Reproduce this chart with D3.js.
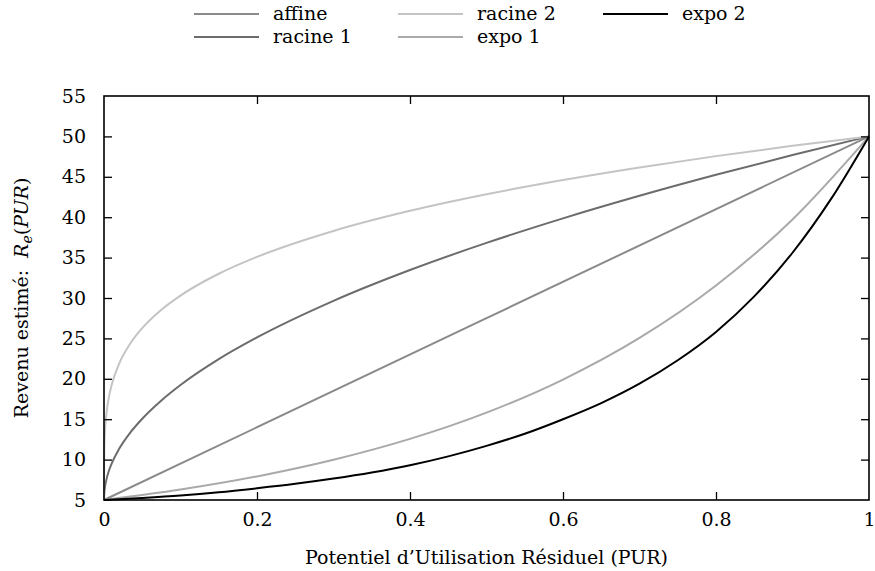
<!DOCTYPE html>
<html>
<head>
<meta charset="utf-8">
<script src="https://cdn.jsdelivr.net/npm/d3@7"></script>
<style>
  body { margin:0; background:#fff; }
  svg text { font-family: "DejaVu Serif", serif; fill:#000; }
  .frame { fill:none; stroke:#000; stroke-width:1.6; }
  .tick line { stroke:#000; stroke-width:1.3; }
  .curve { fill:none; stroke-width:2; }
</style>
</head>
<body>
<div id="chart"></div>
<script>

// data
var seriesNames = ['affine', 'racine 1', 'racine 2', 'expo 1', 'expo 2'];
var seriesColors = ['#8a8a8a', '#6c6c6c', '#c4c4c4', '#a9a9a9', '#000000'];

var affine = [[0,5],[0.5,27.5],[1,50]];
var racine1 = [[0,5],[0.0002,5.64],[0.001,6.42],[0.003,7.46],[0.006,8.49],[0.01,9.5],[0.02,11.36],[0.035,13.42],
               [0.05,15.06],[0.075,17.32],[0.1,19.23],[0.15,22.43],[0.2,25.12],[0.3,29.65],[0.4,33.46],
               [0.5,36.82],[0.6,39.86],[0.7,42.65],[0.8,45.25],[0.9,47.69],[1,50]];
var racine2 = [[0,5],[0.0002,10.35],[0.001,13.0],[0.003,15.53],[0.006,17.52],[0.01,19.23],[0.02,21.92],[0.035,24.46],
               [0.05,26.28],[0.075,28.55],[0.1,30.3],[0.15,33.0],[0.2,35.09],[0.3,38.3],[0.4,40.79],
               [0.5,42.84],[0.6,44.6],[0.7,46.16],[0.8,47.56],[0.9,48.83],[1,50]];
var expo1 = [[0,5],[0.1,6.29],[0.2,7.92],[0.3,9.98],[0.4,12.56],[0.5,15.81],[0.6,19.91],[0.7,25.06],
             [0.8,31.55],[0.9,39.72],[1,50]];
var expo2 = [[0,5],[0.05,5.25],[0.1,5.55],[0.15,5.95],[0.2,6.45],[0.25,7.0],[0.3,7.65],[0.35,8.4],[0.4,9.3],
             [0.45,10.4],[0.5,11.7],[0.55,13.2],[0.6,15.0],[0.65,17.0],[0.7,19.4],[0.75,22.3],[0.8,25.8],
             [0.85,30.2],[0.9,35.6],[0.95,42.2],[1,50]];

var xTicks = [0, 0.2, 0.4, 0.6, 0.8, 1];
var yTicks = [5, 10, 15, 20, 25, 30, 35, 40, 45, 50, 55];

var allSeries = [affine, racine1, racine2, expo1, expo2];

var margin = {top:96, right:6, bottom:71, left:104};
var width = 875 - margin.left - margin.right;
var height = 571 - margin.top - margin.bottom;

var xScale = d3.scaleLinear().domain([0, 1]).range([0, width]);
var yScale = d3.scaleLinear().domain([5, 55]).range([height, 0]);

var svg = d3.select("#chart").append("svg")
    .attr("width", 875)
    .attr("height", 571);

var g = svg.append("g")
    .attr("transform", "translate(" + margin.left + "," + margin.top + ")");

// curves
var line = d3.line()
    .x(function(d) { return xScale(d[0]); })
    .y(function(d) { return yScale(d[1]); })
    .curve(d3.curveMonotoneX);

g.selectAll(".curve")
    .data(allSeries)
    .enter()
    .append("path")
    .attr("class", "curve")
    .attr("stroke", function(d, i) { return seriesColors[i]; })
    .attr("d", line);

// axes, ticks pointing inwards on all four sides
var inner = function(v, lim) { return v > lim[0] && v < lim[1]; };

var xAxisB = d3.axisBottom(xScale).tickValues(xTicks).tickSizeInner(-8).tickSizeOuter(0).tickPadding(13)
    .tickFormat(function(d) { return d === 0 || d === 1 ? d3.format("d")(d) : d3.format(".1f")(d); });
var xAxisT = d3.axisTop(xScale).tickValues(xTicks.filter(function(d) { return inner(d, [0, 1]); }))
    .tickSizeInner(-8).tickSizeOuter(0).tickFormat("");
var yAxisL = d3.axisLeft(yScale).tickValues(yTicks).tickSizeInner(-8).tickSizeOuter(0).tickPadding(18);
var yAxisR = d3.axisRight(yScale).tickValues(yTicks.filter(function(d) { return inner(d, [5, 55]); }))
    .tickSizeInner(-8).tickSizeOuter(0).tickFormat("");

var xb = g.append("g").attr("transform", "translate(0," + height + ")").call(xAxisB);
g.append("g").call(xAxisT);
var yl = g.append("g").call(yAxisL);
g.append("g").attr("transform", "translate(" + width + ",0)").call(yAxisR);

svg.selectAll(".domain").remove();
xb.selectAll(".tick").filter(function(d) { return d === 0 || d === 1; }).select("line").remove();
yl.selectAll(".tick").filter(function(d) { return d === 5 || d === 55; }).select("line").remove();
svg.selectAll(".tick text").style("font-size", "19px");

g.append("rect").attr("class", "frame")
    .attr("x", 0).attr("y", 0).attr("width", width).attr("height", height);

// axis titles
svg.append("text")
    .attr("x", margin.left + width / 2)
    .attr("y", 564)
    .attr("text-anchor", "middle")
    .style("font-size", "19px")
    .text("Potentiel d\u2019Utilisation R\u00e9siduel (PUR)");

var yt = svg.append("text")
    .attr("transform", "translate(28," + (margin.top + height / 2) + ") rotate(-90)")
    .attr("text-anchor", "middle")
    .style("font-size", "19px");
yt.append("tspan").text("Revenu estim\u00e9:\u00a0\u00a0");
yt.append("tspan").style("font-style", "italic").text("R");
yt.append("tspan").style("font-style", "italic").style("font-size", "14px").attr("dy", 4).text("e");
yt.append("tspan").attr("dy", -4).text("(");
yt.append("tspan").style("font-style", "italic").text("PUR");
yt.append("tspan").text(")");

// legend
var legendPos = [[194, 14], [194, 37], [398, 14], [398, 37], [603, 14]];

var legend = svg.selectAll(".legend")
    .data(seriesNames)
    .enter()
    .append("g")
    .attr("class", "legend")
    .attr("transform", function(d, i) { return "translate(" + legendPos[i][0] + "," + legendPos[i][1] + ")"; });

legend.append("line")
    .attr("x1", 0).attr("x2", 65).attr("y1", 0).attr("y2", 0)
    .attr("stroke", function(d, i) { return seriesColors[i]; })
    .attr("stroke-width", 2);

legend.append("text")
    .attr("x", 79)
    .attr("dy", "0.32em")
    .style("font-size", "19px")
    .text(function(d) { return d; });

</script>
</body>
</html>
